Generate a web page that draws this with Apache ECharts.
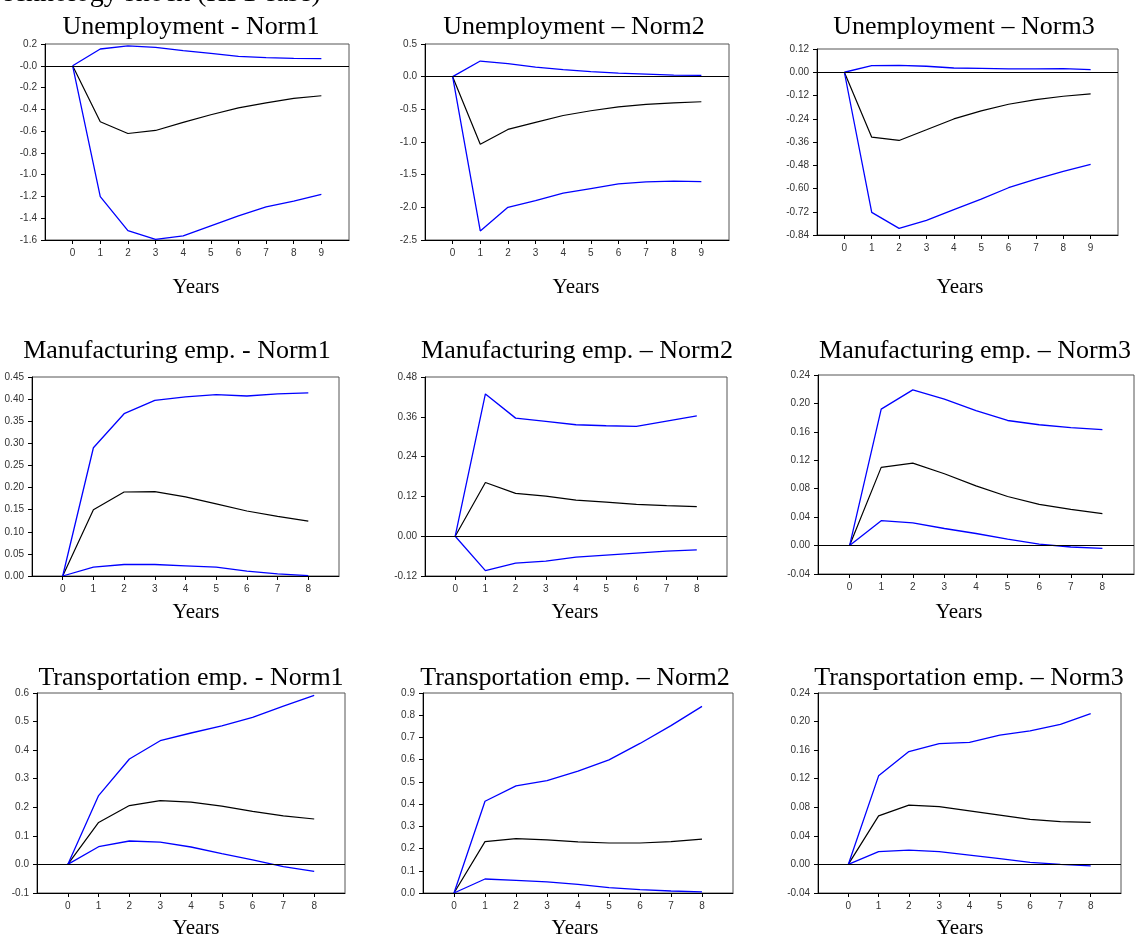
<!DOCTYPE html>
<html>
<head>
<meta charset="utf-8">
<script src="https://cdn.jsdelivr.net/npm/echarts@6/dist/echarts.min.js"></script>
<style>
  html, body { margin: 0; padding: 0; background: #fff; }
  #chart { width: 1136px; height: 938px; }
</style>
</head>
<body>
<div id="chart"></div>
<script>
// horizons
var years9 = [0, 1, 2, 3, 4, 5, 6, 7, 8, 9];
var years8 = [0, 1, 2, 3, 4, 5, 6, 7, 8];

// Unemployment - Norm1
var unemp1Mid = [0, -0.514, -0.622, -0.594, -0.52, -0.45, -0.386, -0.34, -0.30, -0.275];
var unemp1Hi  = [0, 0.154, 0.182, 0.169, 0.139, 0.114, 0.087, 0.074, 0.068, 0.065];
var unemp1Lo  = [0, -1.201, -1.514, -1.594, -1.563, -1.471, -1.379, -1.296, -1.244, -1.18];
// Unemployment - Norm2
var unemp2Mid = [0, -1.033, -0.808, -0.70, -0.594, -0.522, -0.461, -0.425, -0.40, -0.384];
var unemp2Hi  = [0, 0.239, 0.199, 0.147, 0.107, 0.076, 0.055, 0.04, 0.025, 0.02];
var unemp2Lo  = [0, -2.362, -1.999, -1.896, -1.784, -1.713, -1.641, -1.61, -1.60, -1.605];
// Unemployment - Norm3
var unemp3Mid = [0, -0.335, -0.352, -0.297, -0.241, -0.199, -0.165, -0.141, -0.124, -0.112];
var unemp3Hi  = [0, 0.034, 0.036, 0.031, 0.022, 0.020, 0.017, 0.017, 0.019, 0.014];
var unemp3Lo  = [0, -0.723, -0.806, -0.764, -0.709, -0.655, -0.596, -0.551, -0.512, -0.476];
// Manufacturing emp. - Norm1
var manuf1Mid = [0, 0.150, 0.190, 0.191, 0.179, 0.163, 0.147, 0.135, 0.124];
var manuf1Hi  = [0, 0.290, 0.367, 0.397, 0.405, 0.410, 0.407, 0.412, 0.414];
var manuf1Lo  = [0, 0.020, 0.026, 0.026, 0.023, 0.020, 0.011, 0.005, 0.001];
// Manufacturing emp. - Norm2
var manuf2Mid = [0, 0.162, 0.129, 0.121, 0.109, 0.103, 0.096, 0.092, 0.089];
var manuf2Hi  = [0, 0.429, 0.356, 0.346, 0.336, 0.333, 0.331, 0.347, 0.363];
var manuf2Lo  = [0, -0.104, -0.081, -0.075, -0.063, -0.057, -0.051, -0.045, -0.041];
// Manufacturing emp. - Norm3
var manuf3Mid = [0, 0.110, 0.116, 0.101, 0.084, 0.069, 0.058, 0.051, 0.045];
var manuf3Hi  = [0, 0.192, 0.219, 0.206, 0.190, 0.176, 0.170, 0.166, 0.163];
var manuf3Lo  = [0, 0.035, 0.032, 0.024, 0.017, 0.009, 0.002, -0.002, -0.004];
// Transportation emp. - Norm1
var trans1Mid = [0, 0.147, 0.206, 0.223, 0.218, 0.204, 0.186, 0.170, 0.159];
var trans1Hi  = [0, 0.241, 0.369, 0.433, 0.460, 0.485, 0.515, 0.554, 0.592];
var trans1Lo  = [0, 0.062, 0.082, 0.078, 0.061, 0.038, 0.016, -0.008, -0.024];
// Transportation emp. - Norm2
var trans2Mid = [0, 0.231, 0.245, 0.239, 0.230, 0.225, 0.225, 0.231, 0.242];
var trans2Hi  = [0, 0.413, 0.482, 0.506, 0.548, 0.599, 0.673, 0.753, 0.840];
var trans2Lo  = [0, 0.063, 0.057, 0.050, 0.039, 0.024, 0.015, 0.009, 0.005];
// Transportation emp. - Norm3
var trans3Mid = [0, 0.068, 0.083, 0.081, 0.075, 0.069, 0.063, 0.060, 0.059];
var trans3Hi  = [0, 0.124, 0.158, 0.169, 0.171, 0.181, 0.187, 0.196, 0.211];
var trans3Lo  = [0, 0.018, 0.020, 0.018, 0.013, 0.008, 0.003, 0.000, -0.002];

// y tick labels (bottom to top)
var yTicks1 = ['-1.6', '-1.4', '-1.2', '-1.0', '-0.8', '-0.6', '-0.4', '-0.2', '-0.0', '0.2'];
var yTicks2 = ['-2.5', '-2.0', '-1.5', '-1.0', '-0.5', '0.0', '0.5'];
var yTicks3 = ['-0.84', '-0.72', '-0.60', '-0.48', '-0.36', '-0.24', '-0.12', '0.00', '0.12'];
var yTicks4 = ['0.00', '0.05', '0.10', '0.15', '0.20', '0.25', '0.30', '0.35', '0.40', '0.45'];
var yTicks5 = ['-0.12', '0.00', '0.12', '0.24', '0.36', '0.48'];
var yTicks6 = ['-0.04', '0.00', '0.04', '0.08', '0.12', '0.16', '0.20', '0.24'];
var yTicks7 = ['-0.1', '0.0', '0.1', '0.2', '0.3', '0.4', '0.5', '0.6'];
var yTicks8 = ['0.0', '0.1', '0.2', '0.3', '0.4', '0.5', '0.6', '0.7', '0.8', '0.9'];
var yTicks9 = ['-0.04', '0.00', '0.04', '0.08', '0.12', '0.16', '0.20', '0.24'];

var titles = [
  'Unemployment - Norm1', 'Unemployment \u2013 Norm2', 'Unemployment \u2013 Norm3',
  'Manufacturing emp. - Norm1', 'Manufacturing emp. \u2013 Norm2', 'Manufacturing emp. \u2013 Norm3',
  'Transportation emp. - Norm1', 'Transportation emp. \u2013 Norm2', 'Transportation emp. \u2013 Norm3'
];

var panels = [
  { x: years9, mid: unemp1Mid, hi: unemp1Hi, lo: unemp1Lo, ticks: yTicks1, min: -1.6, step: 0.2,
    box: [45, 44, 304, 196], tx: 191, ty: 40, yx: 196, yy: 298 },
  { x: years9, mid: unemp2Mid, hi: unemp2Hi, lo: unemp2Lo, ticks: yTicks2, min: -2.5, step: 0.5,
    box: [425, 44, 304, 196], tx: 574, ty: 40, yx: 576, yy: 298 },
  { x: years9, mid: unemp3Mid, hi: unemp3Hi, lo: unemp3Lo, ticks: yTicks3, min: -0.84, step: 0.12,
    box: [817, 49, 301, 186], tx: 964, ty: 40, yx: 960, yy: 298 },
  { x: years8, mid: manuf1Mid, hi: manuf1Hi, lo: manuf1Lo, ticks: yTicks4, min: 0, step: 0.05,
    box: [32, 377, 307, 199], tx: 177, ty: 364, yx: 196, yy: 623 },
  { x: years8, mid: manuf2Mid, hi: manuf2Hi, lo: manuf2Lo, ticks: yTicks5, min: -0.12, step: 0.12,
    box: [425, 377, 302, 199], tx: 577, ty: 364, yx: 575, yy: 623 },
  { x: years8, mid: manuf3Mid, hi: manuf3Hi, lo: manuf3Lo, ticks: yTicks6, min: -0.04, step: 0.04,
    box: [818, 375, 316, 199], tx: 975, ty: 364, yx: 959, yy: 623 },
  { x: years8, mid: trans1Mid, hi: trans1Hi, lo: trans1Lo, ticks: yTicks7, min: -0.1, step: 0.1,
    box: [37, 693, 308, 200], tx: 191, ty: 691, yx: 196, yy: 939 },
  { x: years8, mid: trans2Mid, hi: trans2Hi, lo: trans2Lo, ticks: yTicks8, min: 0, step: 0.1,
    box: [423, 693, 310, 200], tx: 575, ty: 691, yx: 575, yy: 939 },
  { x: years8, mid: trans3Mid, hi: trans3Hi, lo: trans3Lo, ticks: yTicks9, min: -0.04, step: 0.04,
    box: [818, 693, 303, 200], tx: 969, ty: 691, yx: 960, yy: 939 }
];

var labelFont = '"Liberation Sans Narrow", "Liberation Sans", Arial, sans-serif';
var serif = '"Liberation Serif", "Times New Roman", serif';

var grid = [], xAxis = [], yAxis = [], series = [], graphic = [];

panels.forEach(function (p, i) {
  var last = p.x[p.x.length - 1];
  grid.push({
    left: p.box[0], top: p.box[1], width: p.box[2], height: p.box[3],
    show: true, borderColor: '#555', borderWidth: 1, backgroundColor: 'transparent'
  });
  xAxis.push({
    type: 'value', gridIndex: i, min: -1, max: last + 1, interval: 1,
    axisLine: { onZero: false, lineStyle: { color: '#000', width: 1 } },
    axisTick: { show: true, length: 4, customValues: p.x, lineStyle: { color: '#000' } },
    axisLabel: { customValues: p.x, fontSize: 10, fontFamily: labelFont, color: '#333', margin: 8 },
    splitLine: { show: false }
  });
  var ticks = p.ticks;
  var min = p.min, step = p.step;
  yAxis.push({
    type: 'value', gridIndex: i, min: min, max: min + step * (ticks.length - 1), interval: step,
    axisLine: { show: true, onZero: false, lineStyle: { color: '#000', width: 1 } },
    axisTick: { show: true, length: 4, lineStyle: { color: '#000' } },
    axisLabel: {
      fontSize: 10, fontFamily: labelFont, color: '#333', margin: 8,
      formatter: function (v) { return ticks[Math.round((v - min) / step)]; }
    },
    splitLine: { show: false }
  });
  function pts(arr) { return p.x.map(function (t, k) { return [t, arr[k]]; }); }
  series.push({
    type: 'line', xAxisIndex: i, yAxisIndex: i, data: pts(p.mid), showSymbol: false, symbol: 'none',
    lineStyle: { color: '#000', width: 1.2 }, z: 3,
    markLine: {
      silent: true, symbol: 'none', label: { show: false },
      lineStyle: { color: '#000', width: 1, type: 'solid' },
      data: [{ yAxis: 0 }]
    }
  });
  series.push({
    type: 'line', xAxisIndex: i, yAxisIndex: i, data: pts(p.hi), showSymbol: false, symbol: 'none',
    lineStyle: { color: '#0000ff', width: 1.3 }, z: 3
  });
  series.push({
    type: 'line', xAxisIndex: i, yAxisIndex: i, data: pts(p.lo), showSymbol: false, symbol: 'none',
    lineStyle: { color: '#0000ff', width: 1.3 }, z: 3
  });
  graphic.push({
    type: 'text', x: p.tx, y: p.ty,
    style: { text: titles[i], font: '26px ' + serif, fill: '#000', textAlign: 'center', textVerticalAlign: 'bottom' }
  });
  graphic.push({
    type: 'text', x: p.yx, y: p.yy,
    style: { text: 'Years', font: '21px ' + serif, fill: '#000', textAlign: 'center', textVerticalAlign: 'bottom' }
  });
});

// page heading, mostly cut off at the top edge
graphic.push({
  type: 'text', x: -14, y: 8,
  style: { text: 'Technology shock (HP1 case)', font: '28px ' + serif, fill: '#000', textAlign: 'left', textVerticalAlign: 'bottom' }
});

var chart = echarts.init(document.getElementById('chart'), null, { renderer: 'canvas' });
chart.setOption({
  animation: false,
  backgroundColor: '#fff',
  grid: grid,
  xAxis: xAxis,
  yAxis: yAxis,
  series: series,
  graphic: graphic
});
</script>
</body>
</html>
